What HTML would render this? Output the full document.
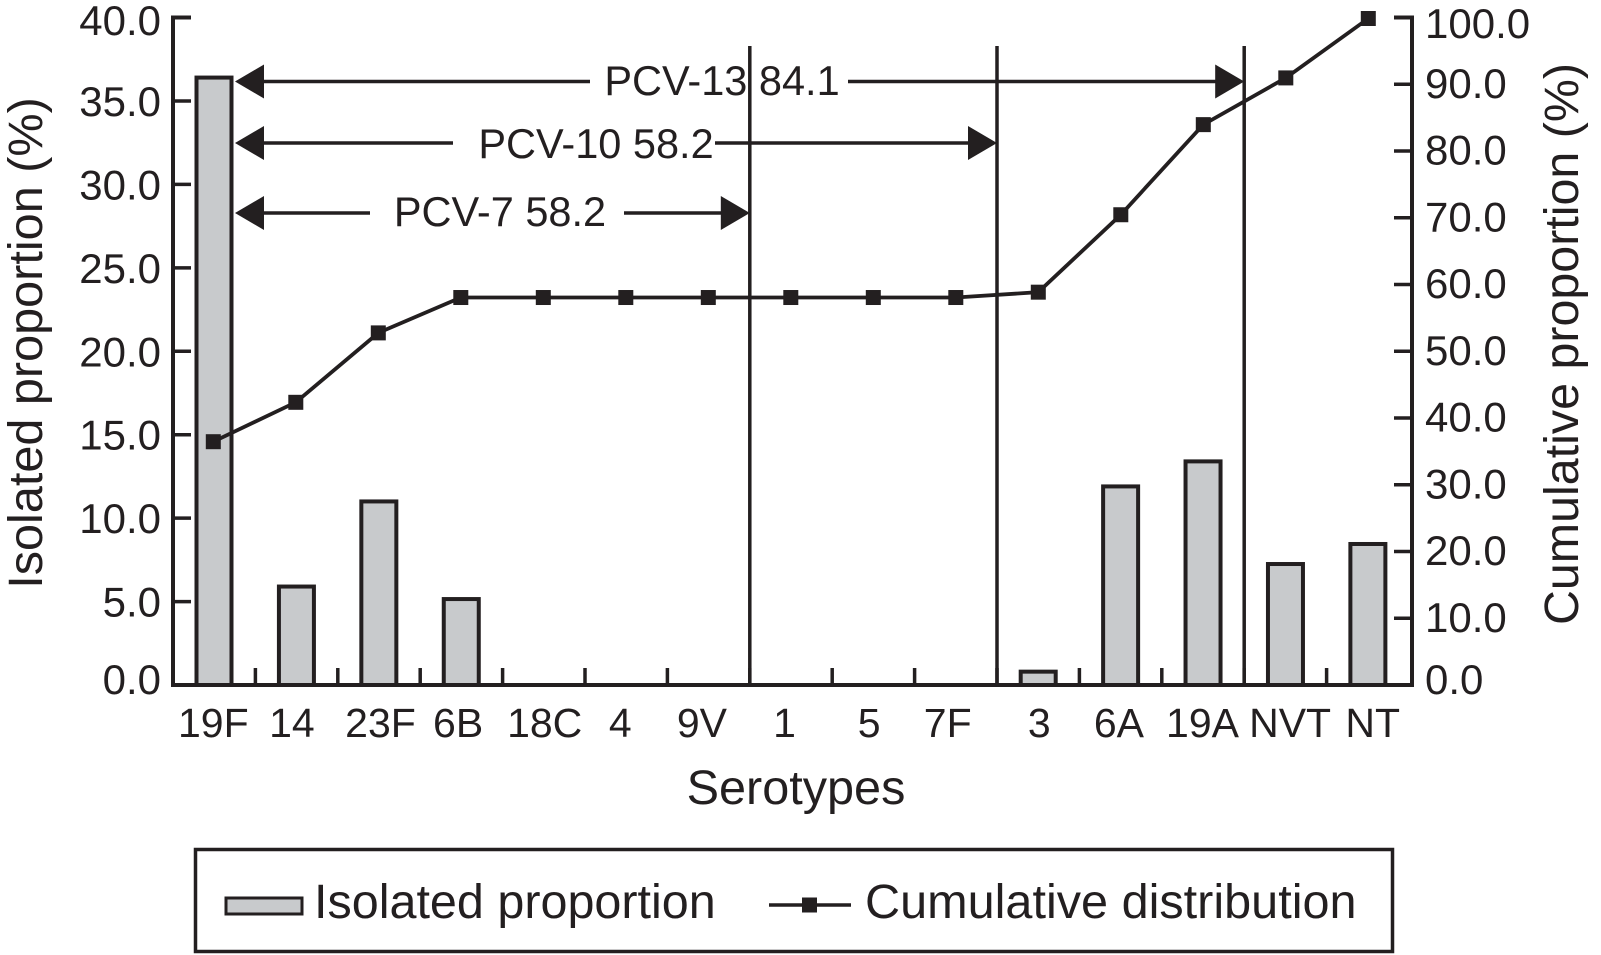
<!DOCTYPE html>
<html lang="en">
<head>
<meta charset="utf-8">
<title>Serotype distribution</title>
<style>
html,body{margin:0;padding:0;background:#fff;width:1601px;height:955px;overflow:hidden}
svg{display:block}
text{font-family:"Liberation Sans",Arial,sans-serif;fill:#231f20}
</style>
</head>
<body>
<svg id="chart" width="1601" height="955" viewBox="0 0 1601 955" xmlns="http://www.w3.org/2000/svg">
  <rect x="0" y="0" width="1601" height="955" fill="#ffffff"/>
  <g id="bars"></g>
  <g id="axes"></g>
  <g id="annotations"></g>
  <g id="line"></g>
  <text transform="translate(42,343) rotate(-90)" text-anchor="middle" font-size="48.6">Isolated proportion (%)</text>
  <text transform="translate(1578,344) rotate(-90)" text-anchor="middle" font-size="48.4">Cumulative proportion (%)</text>
  <text x="796" y="804" text-anchor="middle" font-size="48.6">Serotypes</text>
  <g>
    <rect x="195.5" y="849.5" width="1197" height="102" fill="#ffffff" stroke="#231f20" stroke-width="3.5"/>
    <rect x="226" y="898" width="76" height="16" fill="#c8cacc" stroke="#231f20" stroke-width="3"/>
    <text x="314" y="918" font-size="48.5">Isolated proportion</text>
    <line x1="769" y1="905" x2="851" y2="905" stroke="#231f20" stroke-width="3.5"/>
    <rect x="802" y="897.5" width="15" height="15" fill="#231f20"/>
    <text x="865" y="918" font-size="48.6">Cumulative distribution</text>
  </g>
</svg>
<script>
const categories = ['19F','14','23F','6B','18C','4','9V','1','5','7F','3','6A','19A','NVT','NT'];
const isolatedValues = [36.4,5.9,11.0,5.15,0,0,0,0,0,0,0.8,11.9,13.4,7.25,8.45];
const cumulativeValues = [36.6,42.5,52.9,58.2,58.2,58.2,58.2,58.2,58.2,58.2,59.0,70.6,84.1,91.1,100.0];
const leftTicks = [0,5,10,15,20,25,30,35,40];
const rightTicks = [0,10,20,30,40,50,60,70,80,90,100];
const vaccineNames = ['PCV-7','PCV-10','PCV-13'];
const vaccineCoverage = [58.2,58.2,84.1];
const vaccineEndCategory = [7,10,13];

const NS = 'http://www.w3.org/2000/svg';
const INK = '#231f20';
const AXIS_L = 173, AXIS_R = 1412, Y_ZERO = 685, Y_TOP = 17.5;
const LEFT_MAX = 40, RIGHT_MAX = 100;

function xCenter(i){ return AXIS_L + (AXIS_R - AXIS_L) / categories.length * (i + 0.5); }
function xBar(i){ return xCenter(i) - 0.18 * i - 0.3; }
function xPoint(i){ return xCenter(i) - 1 - 0.1 * i; }
function xBoundary(k){ return AXIS_L + 82.4 * k; }
function yLeft(v){ return Y_ZERO - (Y_ZERO - Y_TOP) * v / LEFT_MAX; }
function yRight(v){ return Y_ZERO - (Y_ZERO - Y_TOP) * v / RIGHT_MAX; }
function leftLabelBase(v){ return Math.min(694, Math.max(35, yLeft(v) + 15)); }
function rightLabelBase(v){ return Math.min(694, Math.max(38, yRight(v) + 13.5)); }

function make(tag, parent, attrs, txt){
  const el = document.createElementNS(NS, tag);
  for (const k in attrs) el.setAttribute(k, attrs[k]);
  if (txt !== undefined) el.textContent = txt;
  parent.appendChild(el);
  return el;
}

const barsG = document.getElementById('bars');
const axesG = document.getElementById('axes');
const annG = document.getElementById('annotations');
const lineG = document.getElementById('line');

// Bars
isolatedValues.forEach(function(v, i){
  if (v <= 0) return;
  const r = make('rect', barsG, {x: xBar(i) - 17.5, y: yLeft(v), width: 35, height: Y_ZERO - yLeft(v), fill: '#c8cacc', stroke: INK, 'stroke-width': 4});
  
  
});

// Axes
const axisPath = make('path', axesG, {d: 'M' + (AXIS_L + 18) + ' ' + Y_TOP + 'H' + AXIS_L + 'V' + Y_ZERO + 'H' + AXIS_R + 'V' + Y_TOP + 'H' + (AXIS_R - 18), fill: 'none', stroke: INK, 'stroke-width': 4});



leftTicks.forEach(function(v){
  if (v > 0 && v < LEFT_MAX) {
    const t = make('line', axesG, {x1: AXIS_L, x2: AXIS_L + 18, y1: yLeft(v), y2: yLeft(v), stroke: INK, 'stroke-width': 3.5});
    
    
  }
  const l = make('text', axesG, {x: 161, y: leftLabelBase(v), 'text-anchor': 'end', 'font-size': 42}, v.toFixed(1));
  
  
});

rightTicks.forEach(function(v){
  if (v > 0 && v < RIGHT_MAX) {
    const t = make('line', axesG, {x1: AXIS_R - 18, x2: AXIS_R, y1: yRight(v), y2: yRight(v), stroke: INK, 'stroke-width': 3.5});
    
    
  }
  const l = make('text', axesG, {x: 1425, y: rightLabelBase(v), 'font-size': 42}, v.toFixed(1));
  
  
});

// Category ticks and labels (small layout nudges follow the reference's hand-set label placement)
function labelNudge(name){
  const nudge = {'19F':-1,'14':-5,'23F':1,'6B':-4,'4':-7,'9V':-8,'1':-8,'5':-6,'7F':-10,'3':-1,'6A':-4,'19A':-3,'NVT':2,'NT':2};
  return nudge[name] || 0;
}
categories.forEach(function(name, i){
  if (i > 0) {
    const t = make('line', axesG, {x1: xBoundary(i), x2: xBoundary(i), y1: Y_ZERO, y2: Y_ZERO - 17, stroke: INK, 'stroke-width': 3.5});
    
    
  }
  const l = make('text', axesG, {x: xCenter(i) + labelNudge(name), y: 737, 'text-anchor': 'middle', 'font-size': 41}, name);
  
  
});

// Vaccine coverage annotations
function annotationLayout(k){
  return [
    {y: 213, base: 226, cx: 500, gapL: 370, gapR: 624},
    {y: 143, base: 158, cx: 596, gapL: 453, gapR: 715},
    {y: 81.5, base: 95, cx: 722, gapL: 590, gapR: 848}
  ][k];
}
vaccineNames.forEach(function(name, k){
  const L = annotationLayout(k);
  const xEnd = xBoundary(vaccineEndCategory[k]);
  const tipL = 235, tipR = xEnd;
  const v = make('line', annG, {x1: xEnd, x2: xEnd, y1: 46, y2: Y_ZERO, stroke: INK, 'stroke-width': 3.5});
  
  
  const label = make('text', annG, {x: L.cx, y: L.base, 'text-anchor': 'middle', 'font-size': 41.5}, name + ' ' + vaccineCoverage[k].toFixed(1));
  
  
  const s1 = make('line', annG, {x1: tipL + 25, x2: L.gapL, y1: L.y, y2: L.y, stroke: INK, 'stroke-width': 3.5});
  
  
  const s2 = make('line', annG, {x1: L.gapR, x2: tipR - 25, y1: L.y, y2: L.y, stroke: INK, 'stroke-width': 3.5});
  
  
  const h1 = make('polygon', annG, {points: tipL + ',' + L.y + ' ' + (tipL + 29) + ',' + (L.y - 17) + ' ' + (tipL + 29) + ',' + (L.y + 17), fill: INK});
  
  
  const h2 = make('polygon', annG, {points: tipR + ',' + L.y + ' ' + (tipR - 29) + ',' + (L.y - 17) + ' ' + (tipR - 29) + ',' + (L.y + 17), fill: INK});
  
  
});

// Cumulative line
const pts = cumulativeValues.map(function(v, i){ return xPoint(i) + ',' + (yRight(v) + 1); }).join(' ');
const poly = make('polyline', lineG, {points: pts, fill: 'none', stroke: INK, 'stroke-width': 3.8});


cumulativeValues.forEach(function(v, i){
  const m = make('rect', lineG, {x: xPoint(i) - 7.5, y: yRight(v) - 7.5 + 1, width: 15, height: 15, fill: INK});
  
  
});
</script>
</body>
</html>
